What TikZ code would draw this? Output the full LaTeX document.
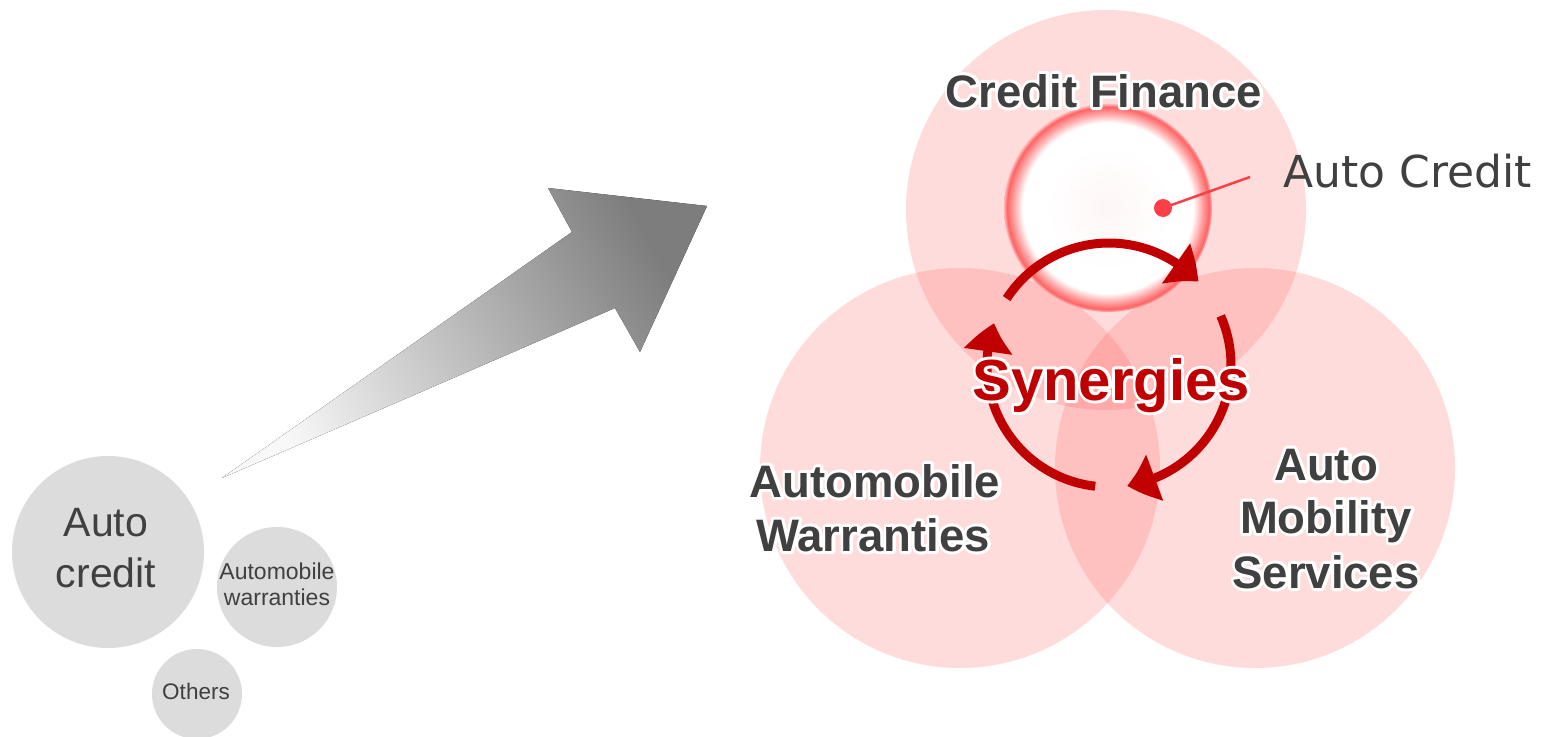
\documentclass[tikz,border=0pt]{standalone}
\usepackage{fontspec}
\setmainfont{Liberation Sans}
\newfontfamily\dejavu{DejaVu Sans}
\usetikzlibrary{arrows.meta,bending}

\definecolor{txtgray}{RGB}{64,64,64}
\definecolor{synred}{RGB}{192,0,0}
\definecolor{pinkbase}{RGB}{255,80,80}
\definecolor{bubble}{RGB}{220,220,220}
\definecolor{dotred}{RGB}{250,64,70}
\definecolor{ringred}{RGB}{255,100,100}
\definecolor{ringmid}{RGB}{255,150,150}
\definecolor{ringpale}{RGB}{255,180,180}
\definecolor{centertint}{RGB}{255,246,246}
\definecolor{arrowdark}{RGB}{125,125,125}
\definecolor{arrowlight}{RGB}{248,248,248}

% text with a white outline underneath: a stroked copy, then the filled glyphs
\newcommand\halo[1]{\leavevmode\rlap{\special{pdf:literal direct 1 Tr 6 w 1 1 1 RG 1 j}#1\special{pdf:literal direct 0 Tr}}#1}

% white disc with a red glowing rim
\pgfdeclareradialshading{glowring}{\pgfpointorigin}{%
  color(0bp)=(centertint); color(15bp)=(white); color(20.5bp)=(white);
  color(23bp)=(ringmid); color(24.3bp)=(ringred); color(25bp)=(ringpale);
  color(50bp)=(ringpale)}

\tikzset{
  venn/.style={circle, inner sep=0, minimum size=400pt, fill=pinkbase, fill opacity=0.2},
  bubblec/.style={circle, inner sep=0, fill=bubble},
  bubbletext/.style={inner sep=0, text=txtgray, align=center},
  biglabel/.style={inner sep=0, anchor=base, text=txtgray, font=\fontsize{45.5}{54}\selectfont\bfseries},
  cycarrow/.style={draw=synred, line width=9pt, -{Triangle[width=47pt,length=29pt,bend]}},
}

\begin{document}
\begin{tikzpicture}[x=1pt,y=1pt]
\useasboundingbox (0,0) rectangle (1552,-736);
\fill[white] (0,0) rectangle (1552,-736);

% left: current business bubbles
\node[bubblec, minimum size=192pt] (acb) at (108,-552) {};
\node[bubbletext, font=\fontsize{41}{51}\selectfont] (act) at (106,-548) {Auto\\credit};
\node[bubblec, minimum size=120pt] (awb) at (277,-587) {};
\node[bubbletext, font=\fontsize{23}{26}\selectfont] (awt) at (277,-584) {Automobile\\warranties};
\node[bubblec, minimum size=90pt] (otb) at (197,-694) {};
\node[bubbletext, font=\fontsize{22.5}{26}\selectfont] (ott) at (196,-691) {Others};

% growth arrow
\fill[top color=arrowdark, bottom color=arrowlight, shading angle=-61]
  (222,-478) -- (572,-232) -- (548,-188) -- (707,-206) -- (640,-352) -- (615,-308) -- cycle;

% three business domains
\node[venn] (cf) at (1106,-210) {};
\node[venn] (aw) at (960,-468) {};
\node[venn] (am) at (1255,-468) {};

% auto credit core
\node[circle, inner sep=0, minimum size=208pt, shade, shading=glowring] (core) at (1108,-208) {};
\node[circle, inner sep=0, minimum size=18pt, fill=dotred] (dot) at (1163,-208) {};
\coordinate (lead) at (1250,-177);
\draw[dotred, line width=2.5pt] (dot.center) -- (lead);
\node[inner sep=0, anchor=base west, text=txtgray, font=\dejavu\fontsize{44}{52}\selectfont] (actx) at (1283,-187) {Auto Credit};

% synergy cycle
\coordinate (cyc) at (1109,-365);
\draw[cycarrow] ([shift={(147:122)}]cyc) arc[start angle=147, end angle=43, radius=122];
\draw[cycarrow] ([shift={(23.7:122)}]cyc) arc[start angle=23.7, end angle=-81.5, radius=122];
\draw[cycarrow] ([shift={(-96.5:122)}]cyc) arc[start angle=-96.5, end angle=-200, radius=122];

% labels
\node[biglabel] (cft) at (1104,-107) {\halo{Credit Finance}};
\node[biglabel] (aw1) at (875,-497) {\halo{Automobile}};
\node[biglabel] (aw2) at (873,-551) {\halo{Warranties}};
\node[biglabel] (am1) at (1326,-480) {\halo{Auto}};
\node[biglabel] (am2) at (1326,-533) {\halo{Mobility}};
\node[biglabel] (am3) at (1326,-588) {\halo{Services}};
\node[biglabel, text=synred, font=\fontsize{58}{66}\selectfont\bfseries] (syn) at (1111,-400) {\halo{Synergies}};
\end{tikzpicture}
\end{document}
